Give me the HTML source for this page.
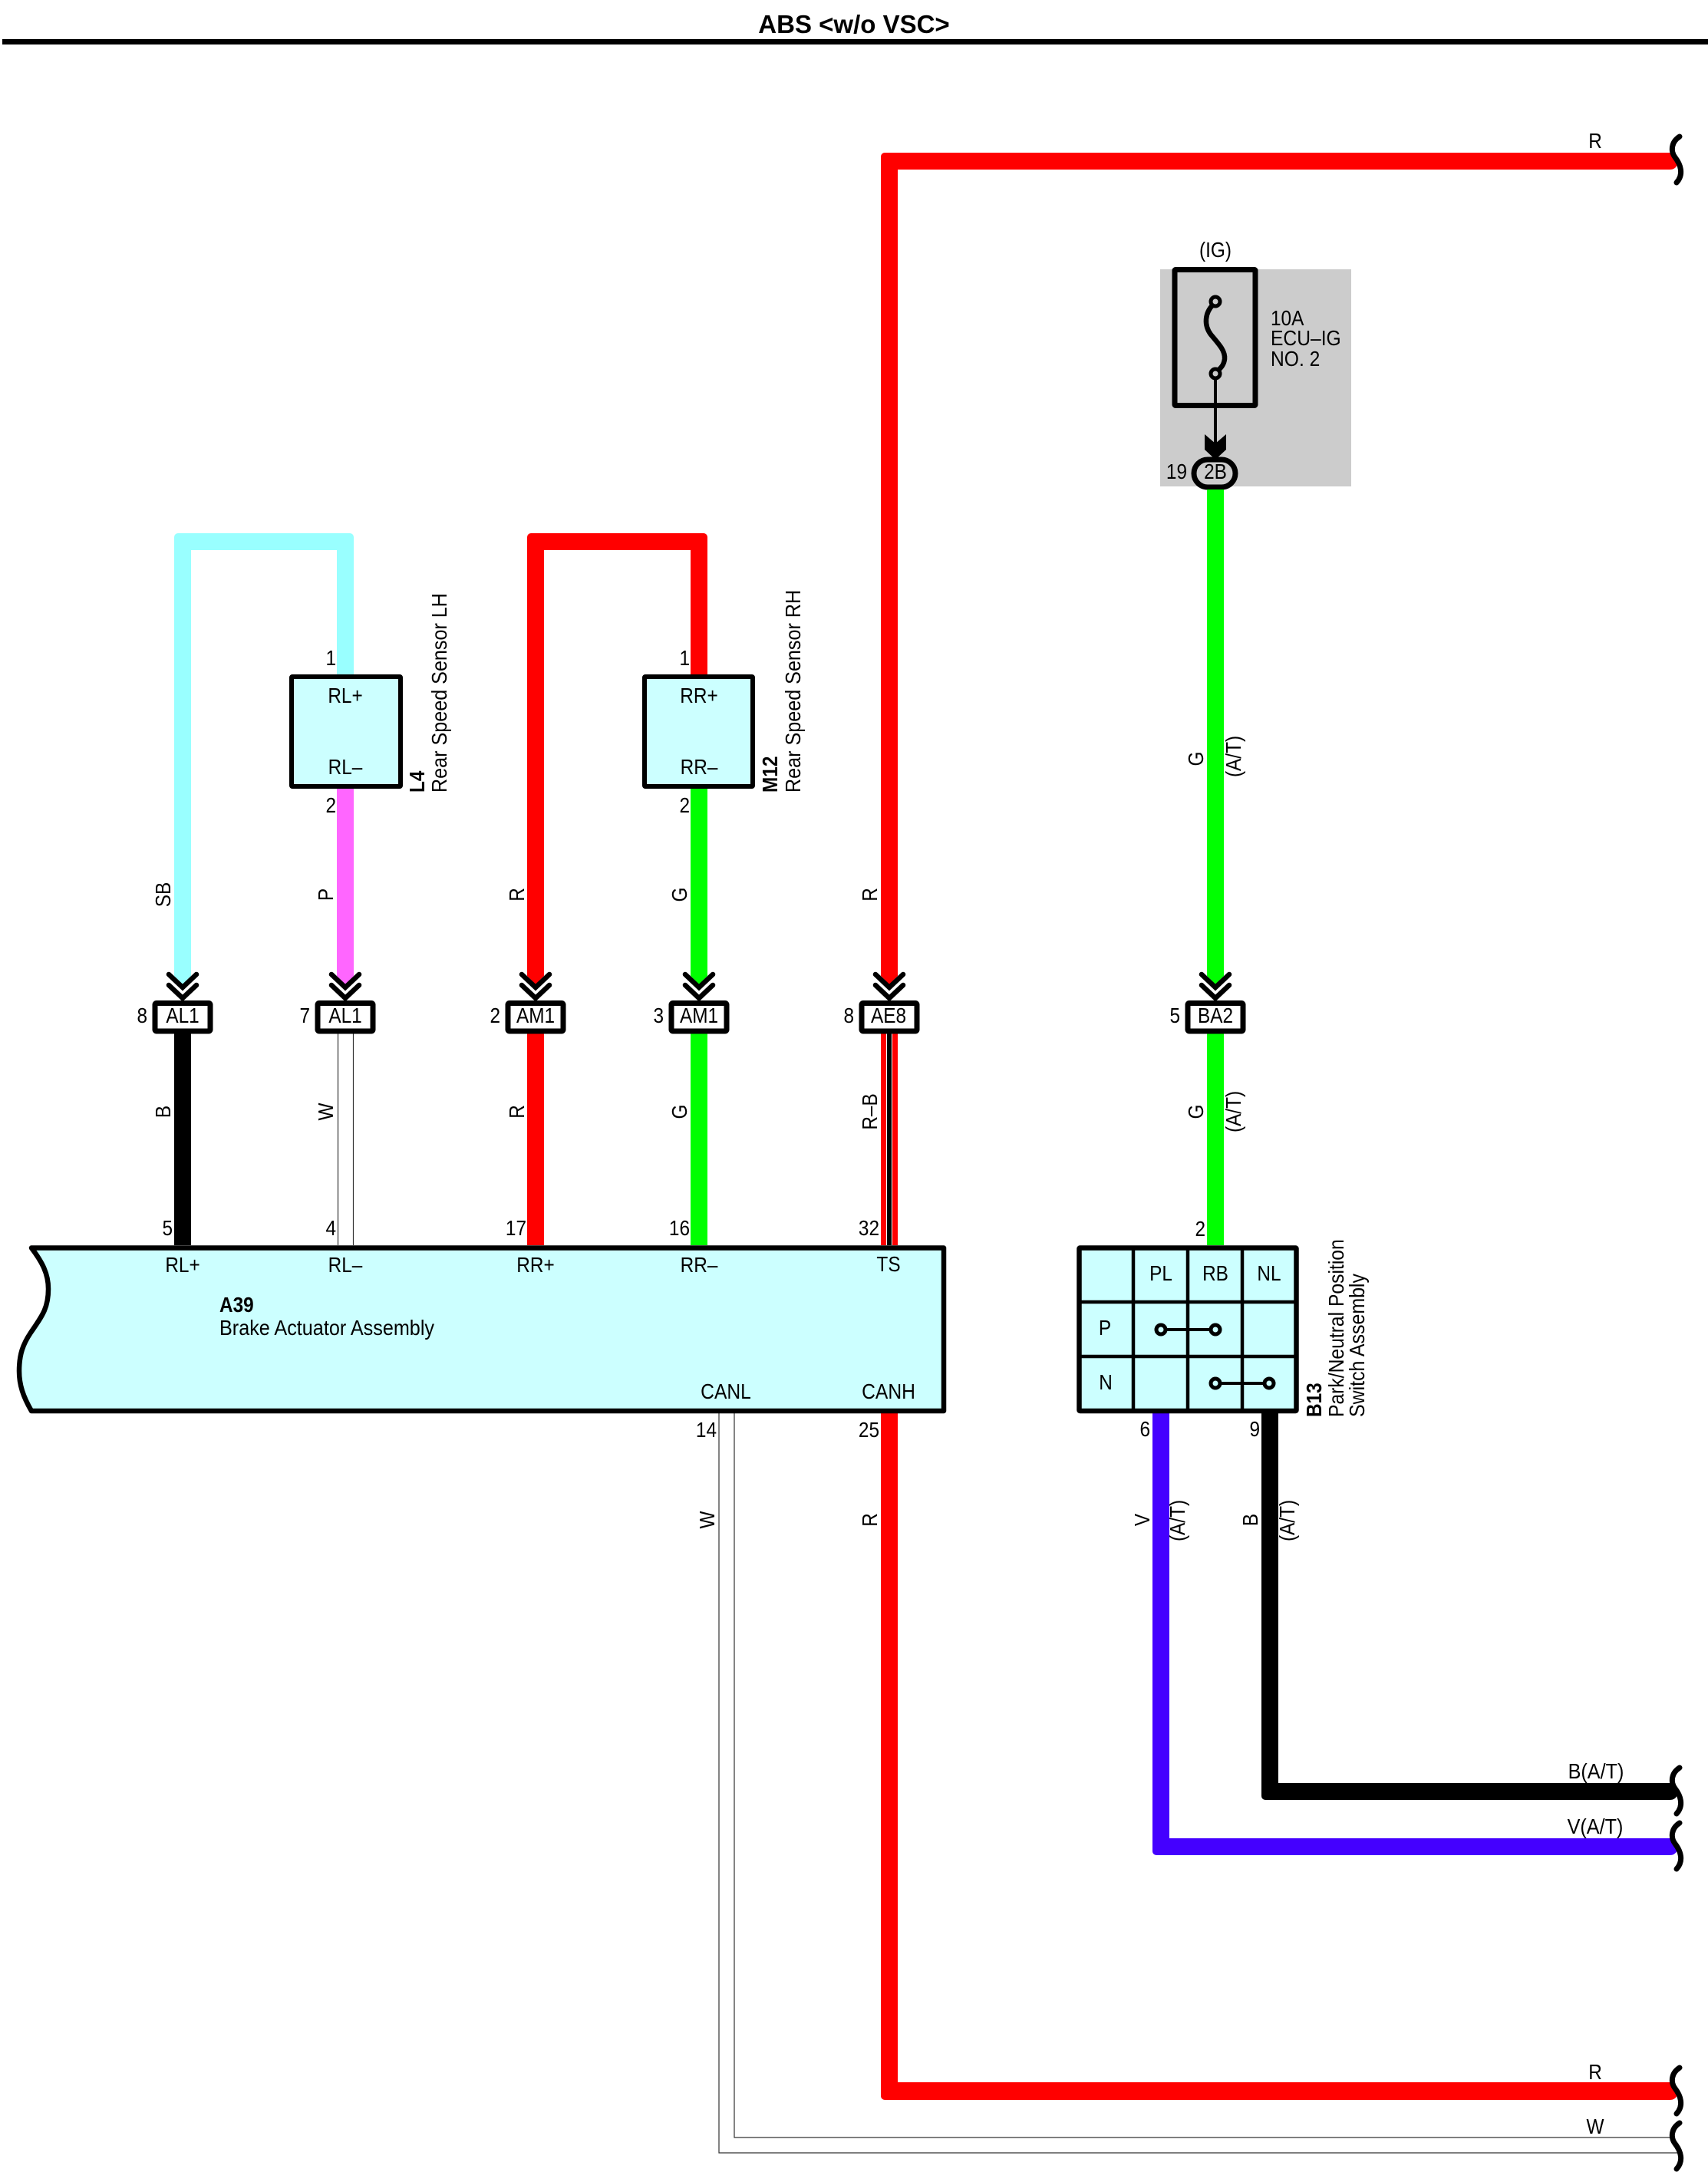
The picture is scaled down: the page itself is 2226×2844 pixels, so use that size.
<!DOCTYPE html>
<html><head><meta charset="utf-8"><title>ABS w/o VSC</title>
<style>
html,body{margin:0;padding:0;background:#fff}
svg{display:block}
text{font-family:"Liberation Sans",sans-serif;font-size:28px;fill:#000}
.m{text-anchor:middle}.e{text-anchor:end}.b{font-weight:bold}
</style></head><body>
<svg xmlns="http://www.w3.org/2000/svg" width="2226" height="2844" viewBox="0 0 2226 2844">
<defs>
<g id="chev" fill="none" stroke="#000" stroke-width="6.5" stroke-linecap="round"><path d="M-18 1270L0 1287L18 1270"/><path d="M-18 1284L0 1301L18 1284"/></g>
<rect id="conn" x="-36" y="1307.5" width="72" height="36.500" rx="2" fill="#fff" stroke="#000" stroke-width="7"/>
<path id="sq" d="M2189 3C2178 10 2177 22 2183 30C2190 39 2195 52 2185 63" fill="none" stroke="#000" stroke-width="7" stroke-linecap="round"/>
</defs>
<rect width="2226" height="2844" fill="#fff"/>
<!-- title -->
<text x="1113" y="43" class="m b" style="font-size:33px">ABS &lt;w/o VSC&gt;</text>
<rect x="3" y="51" width="2223" height="7" fill="#000"/>

<!-- fuse block -->
<rect x="1512" y="351" width="249" height="283" fill="#ccc"/>
<rect x="1531" y="351.500" width="105" height="177" fill="none" stroke="#000" stroke-width="7" rx="1"/>
<path d="M1581 397C1570 408 1569 424 1578 436C1590 450 1597 458 1596 468C1595 476 1591 480 1587 483" fill="none" stroke="#000" stroke-width="6.500"/>
<circle cx="1584" cy="393" r="6" fill="#ccc" stroke="#000" stroke-width="5"/>
<circle cx="1584" cy="487" r="6" fill="#ccc" stroke="#000" stroke-width="5"/>
<path d="M1584 493V580" stroke="#000" stroke-width="4" fill="none"/>
<polygon points="1570,566 1584,578 1598,566 1598,586 1584,599 1570,586" fill="#000"/>
<rect x="1556" y="599" width="54" height="36" rx="18" fill="#ccc" stroke="#000" stroke-width="7"/>
<g transform="translate(1584 624) scale(.87 1)"><text class="m">2B</text></g>
<g transform="translate(1547 624) scale(.87 1)"><text class="e">19</text></g>
<g transform="translate(1584 335) scale(.87 1)"><text class="m">(IG)</text></g>
<g transform="translate(1656 424) scale(.87 1)"><text>10A</text></g>
<g transform="translate(1656 450) scale(.88 1)"><text>ECU–IG</text></g>
<g transform="translate(1656 477) scale(.88 1)"><text>NO. 2</text></g>

<!-- wires upper -->
<path d="M227 1272V700A5 5 0 0 1 232 695H456A5 5 0 0 1 461 700V880H439V717H249V1272L238 1283Z" fill="#99ffff"/>
<path d="M439 932H461V1272L450 1283L439 1272Z" fill="#ff66ff"/>
<path d="M687 1272V700A5 5 0 0 1 692 695H917A5 5 0 0 1 922 700V880H900V717H709V1272L698 1283Z" fill="#ff0000"/>
<path d="M900 932H922V1272L911 1283L900 1272Z" fill="#00ff00"/>
<path d="M1148 1272V204A5 5 0 0 1 1153 199H2179L2186 214Q2184 221 2176 221H1170V1272L1159 1283Z" fill="#ff0000"/>
<path d="M1573 638H1595V1272L1584 1283L1573 1272Z" fill="#00ff00"/>

<!-- wires middle -->
<rect x="227" y="1347" width="22" height="276" fill="#000"/>
<path d="M440.500 1347V1623M460.500 1347V1623" stroke="#333" stroke-width="1.200" fill="none"/>
<rect x="687" y="1347" width="22" height="276" fill="#ff0000"/>
<rect x="900" y="1347" width="22" height="276" fill="#00ff00"/>
<rect x="1148" y="1347" width="22" height="276" fill="#ff0000"/>
<rect x="1155" y="1347" width="8" height="276" fill="#fff"/>
<rect x="1156" y="1347" width="6" height="276" fill="#000"/>
<rect x="1573" y="1347" width="22" height="276" fill="#00ff00"/>

<!-- wires lower -->
<path d="M1148 1842V2732A5 5 0 0 0 1153 2737H2176Q2184 2737 2186 2730L2179 2714H1170V1842Z" fill="#ff0000"/>
<path d="M1502 1842V2413A5 5 0 0 0 1507 2418H2176Q2184 2418 2186 2411L2179 2396H1524V1842Z" fill="#4400ff"/>
<path d="M1644 1842V2341A5 5 0 0 0 1649 2346H2176Q2184 2346 2186 2339L2179 2324H1666V1842Z" fill="#000"/>
<path d="M937 1842V2806H2187M957 1842V2786H2177" fill="none" stroke="#333" stroke-width="1.200"/>

<!-- squiggles -->
<use href="#sq" y="175"/>
<use href="#sq" y="2301"/>
<use href="#sq" y="2373"/>
<use href="#sq" y="2692"/>
<use href="#sq" y="2764"/>

<!-- chevrons and connectors -->
<use href="#chev" x="238"/><use href="#conn" x="238"/>
<use href="#chev" x="450"/><use href="#conn" x="450"/>
<use href="#chev" x="698"/><use href="#conn" x="698"/>
<use href="#chev" x="911"/><use href="#conn" x="911"/>
<use href="#chev" x="1159"/><use href="#conn" x="1159"/>
<use href="#chev" x="1584"/><use href="#conn" x="1584"/>
<g transform="translate(238 1333) scale(.87 1)"><text class="m">AL1</text></g>
<g transform="translate(450 1333) scale(.87 1)"><text class="m">AL1</text></g>
<g transform="translate(698 1333) scale(.87 1)"><text class="m">AM1</text></g>
<g transform="translate(911 1333) scale(.87 1)"><text class="m">AM1</text></g>
<g transform="translate(1158 1333) scale(.87 1)"><text class="m">AE8</text></g>
<g transform="translate(1584 1333) scale(.87 1)"><text class="m">BA2</text></g>
<g transform="translate(192 1333) scale(.87 1)"><text class="e">8</text></g>
<g transform="translate(404 1333) scale(.87 1)"><text class="e">7</text></g>
<g transform="translate(652 1333) scale(.87 1)"><text class="e">2</text></g>
<g transform="translate(865 1333) scale(.87 1)"><text class="e">3</text></g>
<g transform="translate(1113 1333) scale(.87 1)"><text class="e">8</text></g>
<g transform="translate(1538 1333) scale(.87 1)"><text class="e">5</text></g>

<!-- sensors -->
<rect x="380" y="882" width="142" height="143" fill="#ccffff" stroke="#000" stroke-width="6" rx="1"/>
<rect x="840" y="882" width="141" height="143" fill="#ccffff" stroke="#000" stroke-width="6" rx="1"/>
<g transform="translate(450 916) scale(.87 1)"><text class="m">RL+</text></g>
<g transform="translate(450 1009) scale(.87 1)"><text class="m">RL–</text></g>
<g transform="translate(911 916) scale(.87 1)"><text class="m">RR+</text></g>
<g transform="translate(911 1009) scale(.87 1)"><text class="m">RR–</text></g>
<g transform="translate(438 867) scale(.87 1)"><text class="e">1</text></g>
<g transform="translate(438 1059) scale(.87 1)"><text class="e">2</text></g>
<g transform="translate(899 867) scale(.87 1)"><text class="e">1</text></g>
<g transform="translate(899 1059) scale(.87 1)"><text class="e">2</text></g>
<g transform="translate(553 1033) rotate(-90) scale(.87 1)"><text class="b">L4</text></g>
<g transform="translate(582 1033) rotate(-90) scale(.898 1)"><text>Rear Speed Sensor LH</text></g>
<g transform="translate(1013 1033) rotate(-90) scale(.87 1)"><text class="b">M12</text></g>
<g transform="translate(1043 1033) rotate(-90) scale(.898 1)"><text>Rear Speed Sensor RH</text></g>

<!-- brake actuator -->
<path d="M41 1626.500H1230V1839H41C30 1820 25 1805 25 1787C25 1765 30 1752 40 1737C55 1715 63 1705 63 1680C63 1660 55 1645 41 1626.500Z" fill="#ccffff" stroke="#000" stroke-width="6.500" stroke-linejoin="round"/>
<g transform="translate(238 1658) scale(.87 1)"><text class="m">RL+</text></g>
<g transform="translate(450 1658) scale(.87 1)"><text class="m">RL–</text></g>
<g transform="translate(698 1658) scale(.87 1)"><text class="m">RR+</text></g>
<g transform="translate(911 1658) scale(.87 1)"><text class="m">RR–</text></g>
<g transform="translate(1158 1657) scale(.87 1)"><text class="m">TS</text></g>
<g transform="translate(946 1823) scale(.88 1)"><text class="m">CANL</text></g>
<g transform="translate(1158 1823) scale(.88 1)"><text class="m">CANH</text></g>
<g transform="translate(286 1710) scale(.87 1)"><text class="b">A39</text></g>
<g transform="translate(286 1740) scale(.9 1)"><text>Brake Actuator Assembly</text></g>
<g transform="translate(225 1610) scale(.87 1)"><text class="e">5</text></g>
<g transform="translate(438 1610) scale(.87 1)"><text class="e">4</text></g>
<g transform="translate(686 1610) scale(.87 1)"><text class="e">17</text></g>
<g transform="translate(899 1610) scale(.87 1)"><text class="e">16</text></g>
<g transform="translate(1146 1610) scale(.87 1)"><text class="e">32</text></g>
<g transform="translate(934 1873) scale(.87 1)"><text class="e">14</text></g>
<g transform="translate(1146 1873) scale(.87 1)"><text class="e">25</text></g>

<!-- switch -->
<rect x="1406.500" y="1626.500" width="283" height="212.500" fill="#ccffff" stroke="#000" stroke-width="6.500" rx="1"/>
<path d="M1477 1626V1840M1548 1626V1840M1619 1626V1840M1406 1697H1690M1406 1768H1690" stroke="#000" stroke-width="4.500" fill="none"/>
<path d="M1513 1733H1584M1584 1803H1654" stroke="#000" stroke-width="4" fill="none"/>
<circle cx="1513" cy="1733" r="6" fill="#ccffff" stroke="#000" stroke-width="5"/>
<circle cx="1584" cy="1733" r="6" fill="#ccffff" stroke="#000" stroke-width="5"/>
<circle cx="1584" cy="1803" r="6" fill="#ccffff" stroke="#000" stroke-width="5"/>
<circle cx="1654" cy="1803" r="6" fill="#ccffff" stroke="#000" stroke-width="5"/>
<g transform="translate(1513 1669) scale(.87 1)"><text class="m">PL</text></g>
<g transform="translate(1584 1669) scale(.87 1)"><text class="m">RB</text></g>
<g transform="translate(1654 1669) scale(.87 1)"><text class="m">NL</text></g>
<g transform="translate(1440 1740) scale(.87 1)"><text class="m">P</text></g>
<g transform="translate(1441 1811) scale(.87 1)"><text class="m">N</text></g>
<g transform="translate(1571 1611) scale(.87 1)"><text class="e">2</text></g>
<g transform="translate(1499 1872) scale(.87 1)"><text class="e">6</text></g>
<g transform="translate(1642 1872) scale(.87 1)"><text class="e">9</text></g>
<g transform="translate(1722 1847) rotate(-90) scale(.87 1)"><text class="b">B13</text></g>
<g transform="translate(1751 1847) rotate(-90) scale(.882 1)"><text>Park/Neutral Position</text></g>
<g transform="translate(1778 1847) rotate(-90) scale(.89 1)"><text>Switch Assembly</text></g>

<!-- wire labels rotated -->
<g transform="translate(222 1166) rotate(-90) scale(.87 1)"><text class="m">SB</text></g>
<g transform="translate(434 1166) rotate(-90) scale(.87 1)"><text class="m">P</text></g>
<g transform="translate(683 1166) rotate(-90) scale(.87 1)"><text class="m">R</text></g>
<g transform="translate(895 1166) rotate(-90) scale(.87 1)"><text class="m">G</text></g>
<g transform="translate(1143 1166) rotate(-90) scale(.87 1)"><text class="m">R</text></g>
<g transform="translate(1568 989) rotate(-90) scale(.87 1)"><text class="m">G</text></g>
<g transform="translate(1617 986) rotate(-90) scale(.87 1)"><text class="m">(A/T)</text></g>
<g transform="translate(222 1449) rotate(-90) scale(.87 1)"><text class="m">B</text></g>
<g transform="translate(434 1449) rotate(-90) scale(.87 1)"><text class="m">W</text></g>
<g transform="translate(683 1449) rotate(-90) scale(.87 1)"><text class="m">R</text></g>
<g transform="translate(895 1449) rotate(-90) scale(.87 1)"><text class="m">G</text></g>
<g transform="translate(1143 1449) rotate(-90) scale(.87 1)"><text class="m">R–B</text></g>
<g transform="translate(1568 1449) rotate(-90) scale(.87 1)"><text class="m">G</text></g>
<g transform="translate(1617 1449) rotate(-90) scale(.87 1)"><text class="m">(A/T)</text></g>
<g transform="translate(931 1981) rotate(-90) scale(.87 1)"><text class="m">W</text></g>
<g transform="translate(1143 1981) rotate(-90) scale(.87 1)"><text class="m">R</text></g>
<g transform="translate(1498 1981) rotate(-90) scale(.87 1)"><text class="m">V</text></g>
<g transform="translate(1544 1982) rotate(-90) scale(.87 1)"><text class="m">(A/T)</text></g>
<g transform="translate(1639 1981) rotate(-90) scale(.87 1)"><text class="m">B</text></g>
<g transform="translate(1687 1982) rotate(-90) scale(.87 1)"><text class="m">(A/T)</text></g>

<!-- right labels -->
<g transform="translate(2079 193) scale(.87 1)"><text class="m">R</text></g>
<g transform="translate(2080 2318) scale(.9 1)"><text class="m">B(A/T)</text></g>
<g transform="translate(2079 2390) scale(.9 1)"><text class="m">V(A/T)</text></g>
<g transform="translate(2079 2710) scale(.87 1)"><text class="m">R</text></g>
<g transform="translate(2079 2781) scale(.87 1)"><text class="m">W</text></g>
</svg>
</body></html>
